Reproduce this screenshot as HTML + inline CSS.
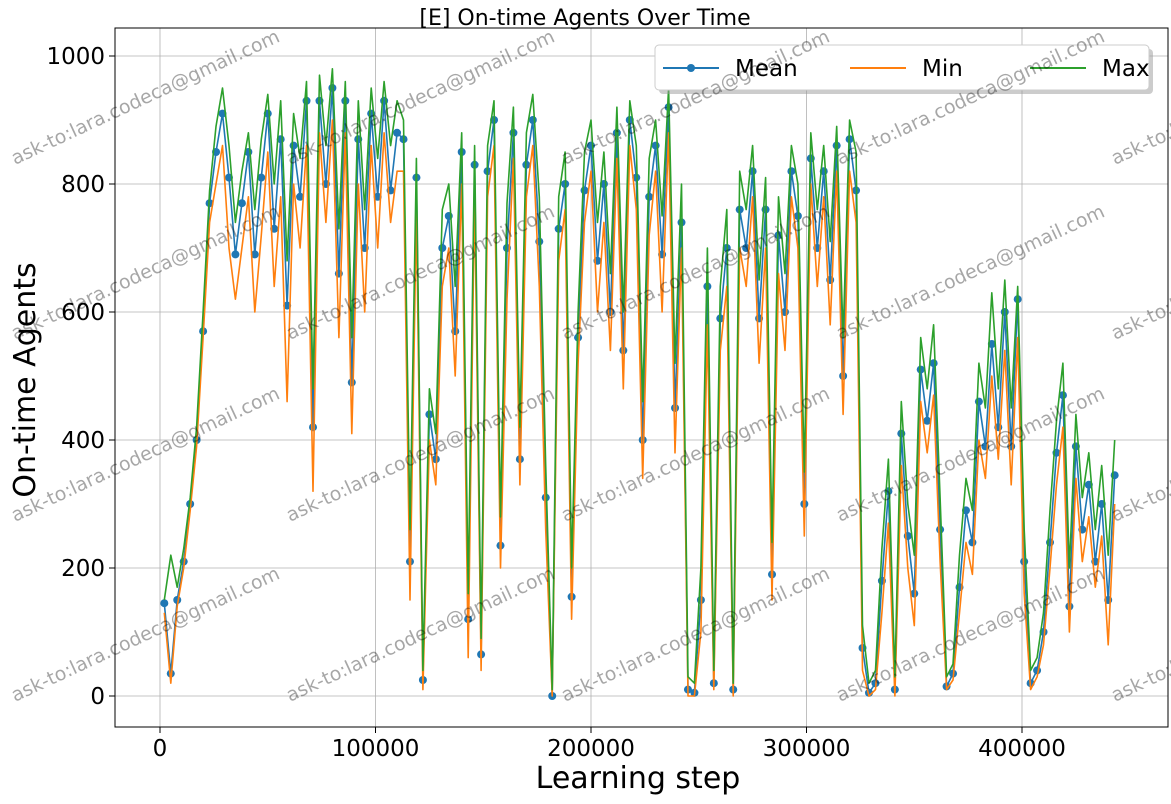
<!DOCTYPE html>
<html><head><meta charset="utf-8"><style>
html,body{margin:0;background:#fff;overflow:hidden;width:1171px;height:804px;}
svg{font-family:"DejaVu Sans","Liberation Sans",sans-serif;display:block;overflow:hidden;}
</style></head><body>
<svg id="chart" width="1171" height="804"></svg>
<script>
const xStart = 2000, xStep = 3000;
const meanVals = [145,35,150,210,300,400,570,770,850,910,810,690,770,850,690,810,910,730,870,610,860,780,930,420,930,800,950,660,930,490,870,700,910,780,930,790,880,870,210,810,25,440,370,700,750,570,850,120,830,65,820,900,235,700,880,370,830,900,710,310,0,730,800,155,560,790,860,680,800,600,880,540,900,810,400,780,860,690,920,450,740,10,5,150,640,20,590,700,10,760,700,820,590,760,190,720,600,820,750,300,840,700,820,650,860,500,870,790,75,5,20,180,320,10,410,250,160,510,430,520,260,15,35,170,290,240,460,390,550,420,600,390,620,210,20,40,100,240,380,470,140,390,260,330,210,300,150,345];
const minVals = [130,20,140,200,290,390,560,740,800,860,700,620,700,780,600,720,850,640,780,460,800,700,860,320,880,740,900,560,880,410,800,600,860,700,880,740,820,820,150,760,10,400,330,640,700,500,800,60,790,40,780,860,200,620,840,330,780,860,640,260,0,680,760,120,520,740,820,600,740,540,840,480,860,760,340,720,820,600,880,380,700,0,0,100,580,10,540,640,0,700,640,780,520,700,150,660,540,780,700,250,800,640,780,580,820,440,820,740,40,0,10,130,270,0,360,200,110,460,380,470,210,10,25,130,240,190,400,340,500,370,540,330,560,160,10,30,80,200,330,420,100,340,210,280,170,250,80,300];
const maxVals = [150,220,170,230,310,420,600,790,890,950,860,740,820,880,760,870,940,800,930,680,910,840,960,480,970,860,980,730,960,560,930,760,950,840,960,860,930,900,260,840,40,480,410,760,800,640,880,160,860,90,860,930,280,770,920,420,880,940,780,360,10,780,850,200,600,850,900,740,850,660,920,600,930,860,460,840,900,750,950,520,800,30,20,200,700,40,640,760,20,820,760,860,650,810,240,780,660,860,800,350,880,760,860,710,890,560,900,850,110,20,40,230,370,30,460,300,220,560,480,580,310,30,50,220,340,290,520,450,630,480,650,450,640,260,40,60,130,290,430,520,200,440,310,380,260,360,220,400];
const yTicks = [0,200,400,600,800,1000];
const xTicks = [0,100000,200000,300000,400000];

const NS = "http://www.w3.org/2000/svg";
const svg = document.getElementById('chart');
const L=115,R=1168,T=28,B=727;
const xS = v => 160 + v*(1022-160)/400000;
const yS = v => 696 - v*0.64;
function el(t,a,p){const e=document.createElementNS(NS,t);for(const k in a)e.setAttribute(k,a[k]);(p||svg).appendChild(e);return e;}

xTicks.forEach(t=>{const g=el('line',{x1:xS(t),x2:xS(t),y1:T,y2:B,stroke:'#b0b0b0','stroke-width':0.8});

});
yTicks.forEach(t=>{const g=el('line',{x1:L,x2:R,y1:yS(t),y2:yS(t),stroke:'#b0b0b0','stroke-width':0.8});

});

function series(vals,color,name,markers){
  const pts = vals.map((v,i)=>xS(xStart+i*xStep).toFixed(1)+','+yS(v).toFixed(1)).join(' ');
  const pl = el('polyline',{points:pts,fill:'none',stroke:color,'stroke-width':1.6,'stroke-linejoin':'round'});
  
  
  if(markers){vals.forEach((v,i)=>{const c=el('circle',{cx:xS(xStart+i*xStep),cy:yS(v),r:4,fill:color});
    
    });}
}
series(meanVals,'#1f77b4','mean',true);
series(minVals,'#ff7f0e','min',false);
series(maxVals,'#2ca02c','max',false);

const fr = el('rect',{x:L,y:T,width:R-L,height:B-T,fill:'none',stroke:'#000','stroke-width':1});



yTicks.forEach(t=>{el('line',{x1:L-6,x2:L,y1:yS(t),y2:yS(t),stroke:'#000'});
 const tx=el('text',{x:L-10,y:yS(t)+8,'text-anchor':'end','font-size':23});tx.textContent=t;
 
 });
xTicks.forEach(t=>{el('line',{x1:xS(t),x2:xS(t),y1:B,y2:B+6,stroke:'#000'});
 const tx=el('text',{x:xS(t),y:B+29,'text-anchor':'middle','font-size':23});tx.textContent=t;
 
 });

let t1=el('text',{x:585,y:25,'text-anchor':'middle','font-size':22});t1.textContent='[E] On-time Agents Over Time';


let t2=el('text',{x:638,y:788,'text-anchor':'middle','font-size':30});t2.textContent='Learning step';


let t3=el('text',{x:0,y:0,'text-anchor':'middle','font-size':30,transform:'translate(35,380) rotate(-90)'});t3.textContent='On-time Agents';



const lg=el('g',{});


el('rect',{x:659,y:49,width:494,height:45,rx:4,fill:'#999',opacity:0.5},lg);
el('rect',{x:655,y:45,width:494,height:45,rx:4,fill:'#fff',stroke:'#ccc'},lg);
[['Mean','#1f77b4',663,true],['Min','#ff7f0e',850,false],['Max','#2ca02c',1030,false]].forEach(d=>{
  const g=el('g',{},lg);
  
  
  el('line',{x1:d[2],x2:d[2]+56,y1:68,y2:68,stroke:d[1],'stroke-width':2},g);
  if(d[3])el('circle',{cx:d[2]+28,cy:68,r:4,fill:d[1]},g);
  const tx=el('text',{x:d[2]+72,y:76,'font-size':23},g);tx.textContent=d[0];
});

const cols=[15,290,565,840,1115], rows=[165,340,522,702];
rows.forEach(ry=>cols.forEach(cx=>{
  const w=el('text',{x:cx,y:ry,'font-size':19,fill:'#000','fill-opacity':0.35,transform:`rotate(-25 ${cx} ${ry})`});
  w.textContent='ask-to:lara.codeca@gmail.com';
  
  
}));
</script>
</body></html>
